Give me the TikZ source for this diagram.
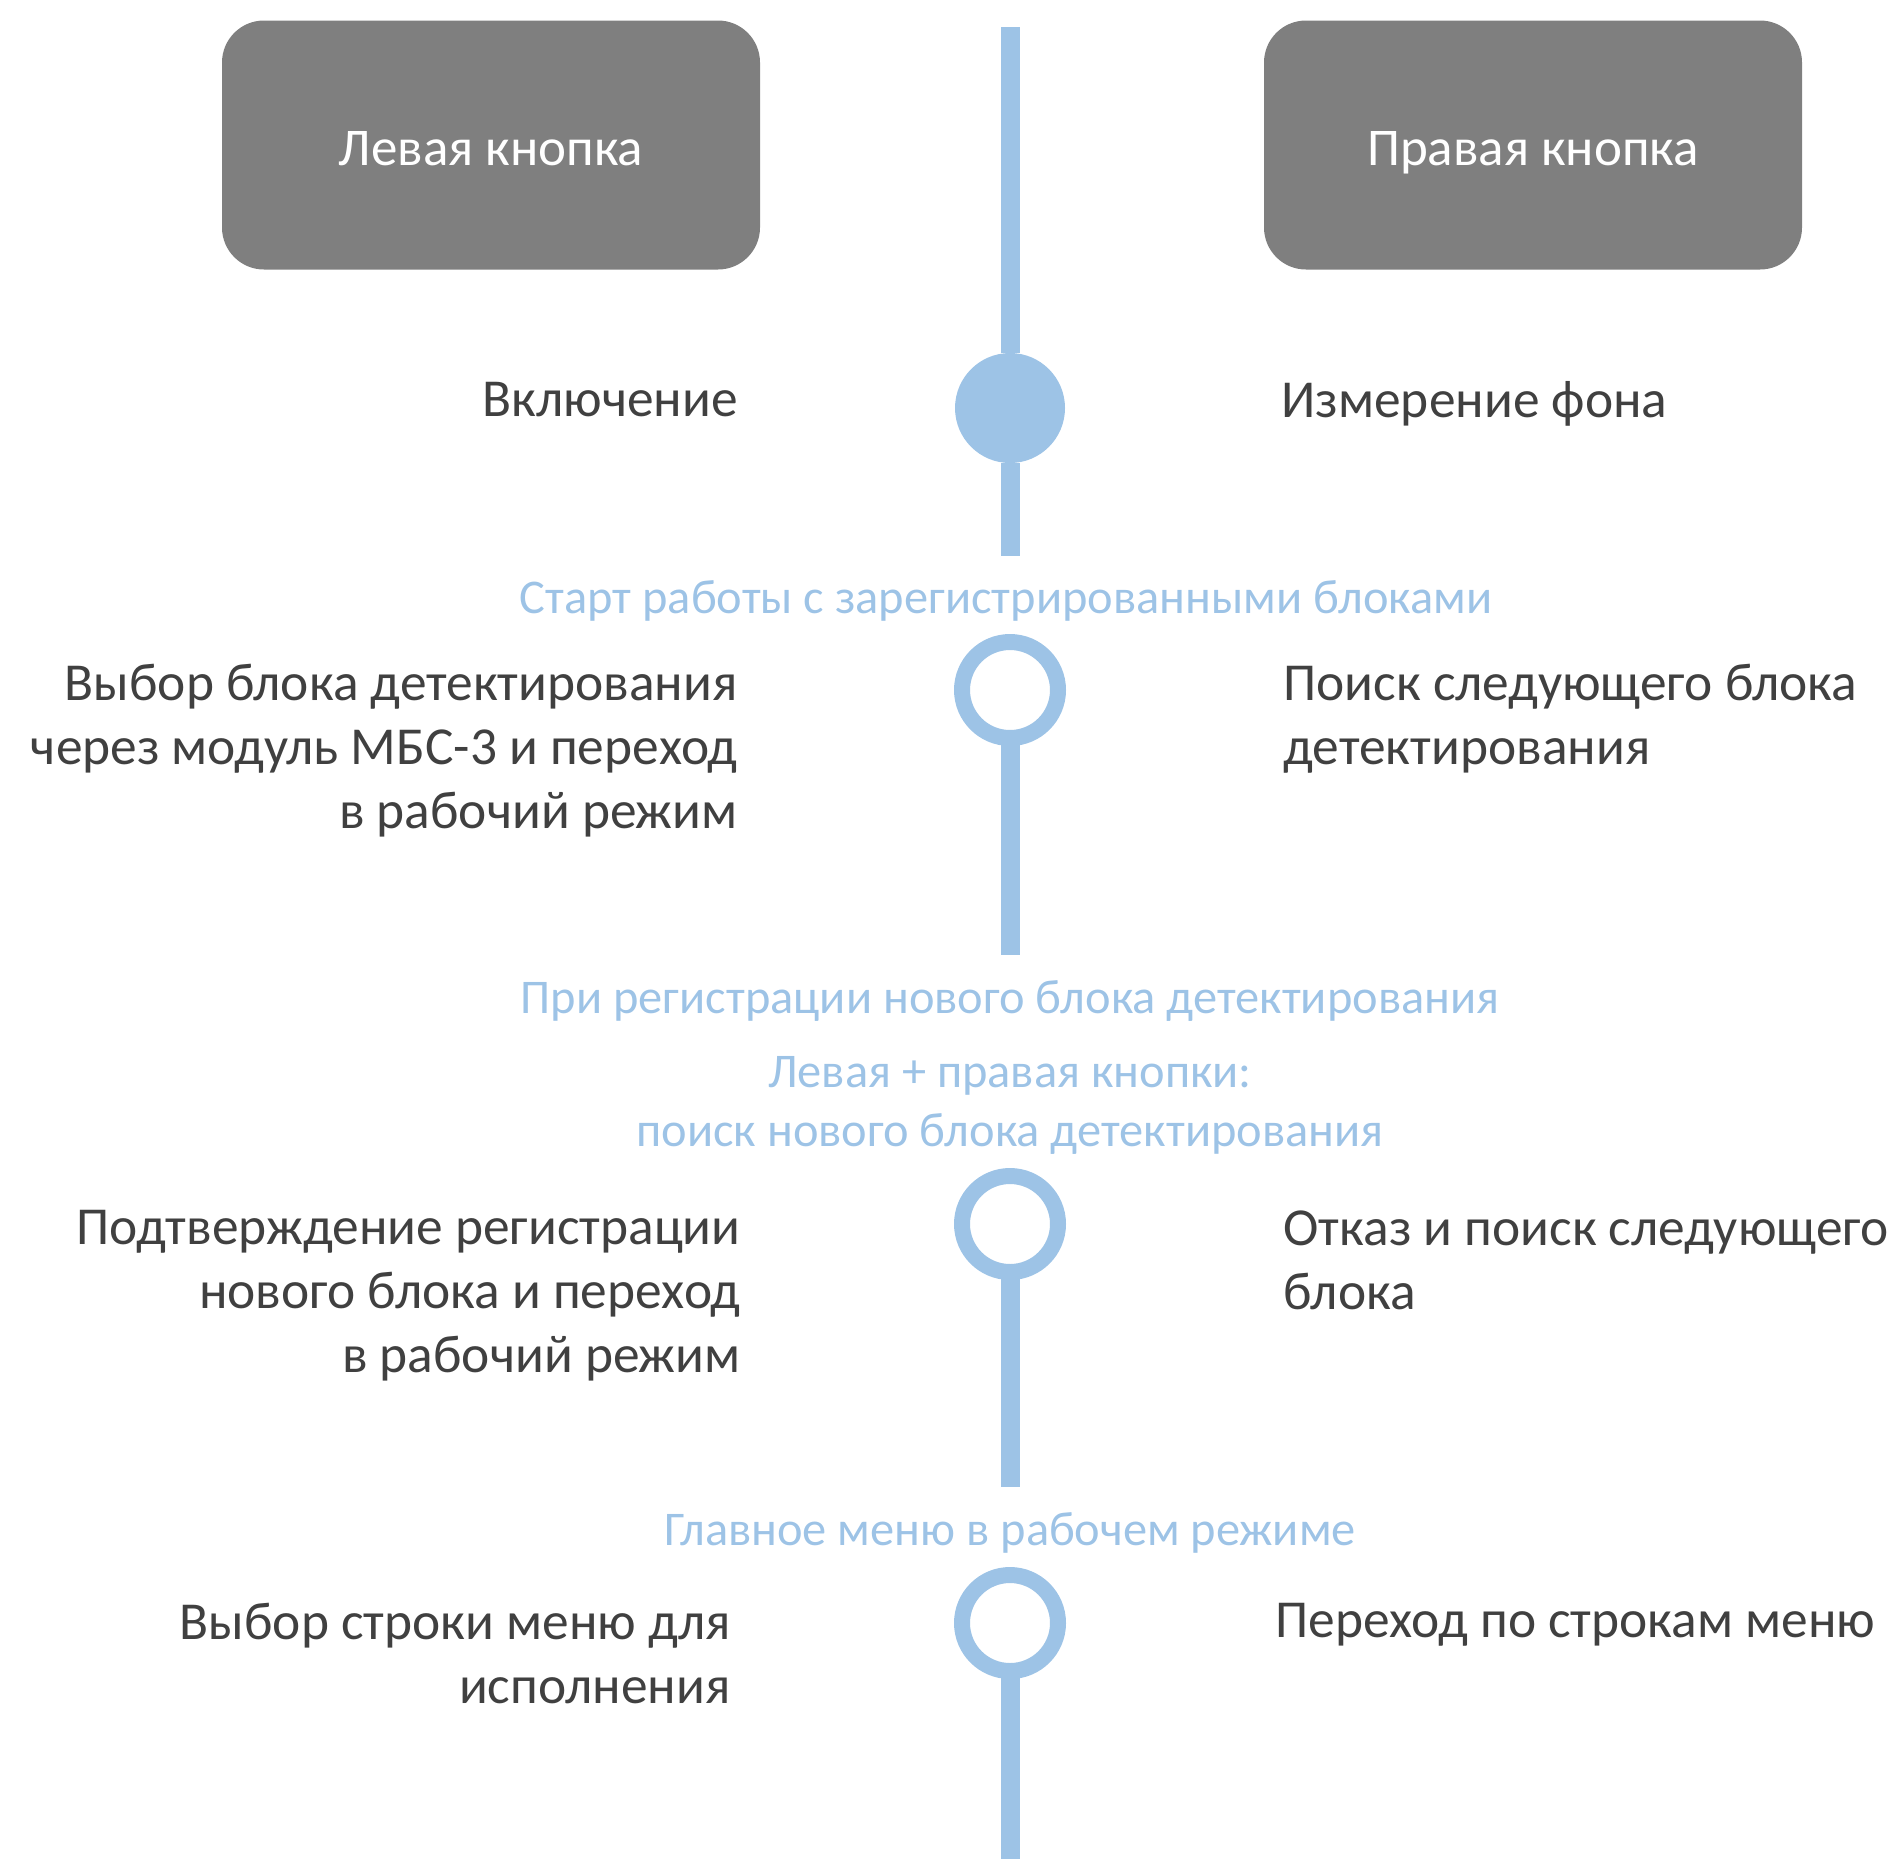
\documentclass[tikz,border=0pt]{standalone}
\usepackage{fontspec}
\setmainfont{Carlito}
\definecolor{tlblue}{HTML}{9DC3E6}
\definecolor{tlgray}{HTML}{7F7F7F}
\definecolor{tldark}{HTML}{404040}
\begin{document}
\begin{tikzpicture}[x=0.5pt,y=-0.5pt,
  btn/.style={fill=tlgray, draw=none, rounded corners=21pt, minimum width=269pt, minimum height=124.5pt, text=white, font=\fontsize{26.5}{32}\selectfont, inner sep=0},
  dark/.style={text=tldark, font=\fontsize{26.7}{32}\selectfont, inner sep=0},
  bluelbl/.style={text=tlblue, font=\fontsize{24.2}{29.5}\selectfont, inner sep=0, align=center},
  tline/.style={draw=tlblue, line width=9.5pt},
  ring/.style={circle, draw=tlblue, fill=white, line width=8pt, minimum size=48pt, inner sep=0, outer sep=0},
  dot/.style={circle, fill=tlblue, draw=none, minimum size=55pt, inner sep=0, outer sep=0}
]
\useasboundingbox (0,0) rectangle (1895,1859);

\node[btn] (lb) at (491,145) {};
\node[btn] (rb) at (1533,145) {};
\node[text=white, font=\fontsize{26.5}{32}\selectfont, inner sep=0] (lbt) at (491,149) {Левая кнопка};
\node[text=white, font=\fontsize{26.5}{32}\selectfont, inner sep=0] (rbt) at (1533,153) {Правая кнопка};

\coordinate (t0) at (1010,27);
\coordinate (e1) at (1010,556);
\coordinate (e2) at (1010,955);
\coordinate (e3) at (1010,1487);
\coordinate (e4) at (1010,1859);

\node[dot] (c1) at (1010,408) {};
\node[ring] (c2) at (1010,690) {};
\node[ring] (c3) at (1010,1224) {};
\node[ring] (c4) at (1010,1623) {};

\draw[tline] (t0) -- (c1.north);
\draw[tline] (c1.south) -- (e1);
\draw[tline] (c2.south) -- (e2);
\draw[tline] (c3.south) -- (e3);
\draw[tline] (c4.south) -- (e4);

\node[dark, anchor=east] (l1) at (738,400) {Включение};
\node[dark, anchor=west] (r1) at (1281,404) {Измерение фона};

\node[bluelbl] (b1) at (1006,601) {Старт работы с зарегистрированными блоками};

\node[dark, anchor=east, align=right] (l2) at (738,751) {Выбор блока детектирования\\через модуль МБС-3 и переход\\в рабочий режим};
\node[dark, anchor=west, align=left] (r2) at (1283,719) {Поиск следующего блока\\детектирования};

\node[bluelbl] (b2) at (1010,1001) {При регистрации нового блока детектирования};
\node[bluelbl] (b3) at (1010,1105) {Левая + правая кнопки:\\поиск нового блока детектирования};

\node[dark, anchor=east, align=right] (l3) at (741,1296) {Подтверждение регистрации\\нового блока и переход\\в рабочий режим};
\node[dark, anchor=west, align=left] (r3) at (1283,1260) {Отказ и поиск следующего\\блока};

\node[bluelbl] (b4) at (1010,1533) {Главное меню в рабочем режиме};

\node[dark, anchor=east, align=right] (l4) at (731,1653) {Выбор строки меню для\\исполнения};
\node[dark, anchor=west] (r4) at (1275,1625) {Переход по строкам меню};
\end{tikzpicture}
\end{document}
